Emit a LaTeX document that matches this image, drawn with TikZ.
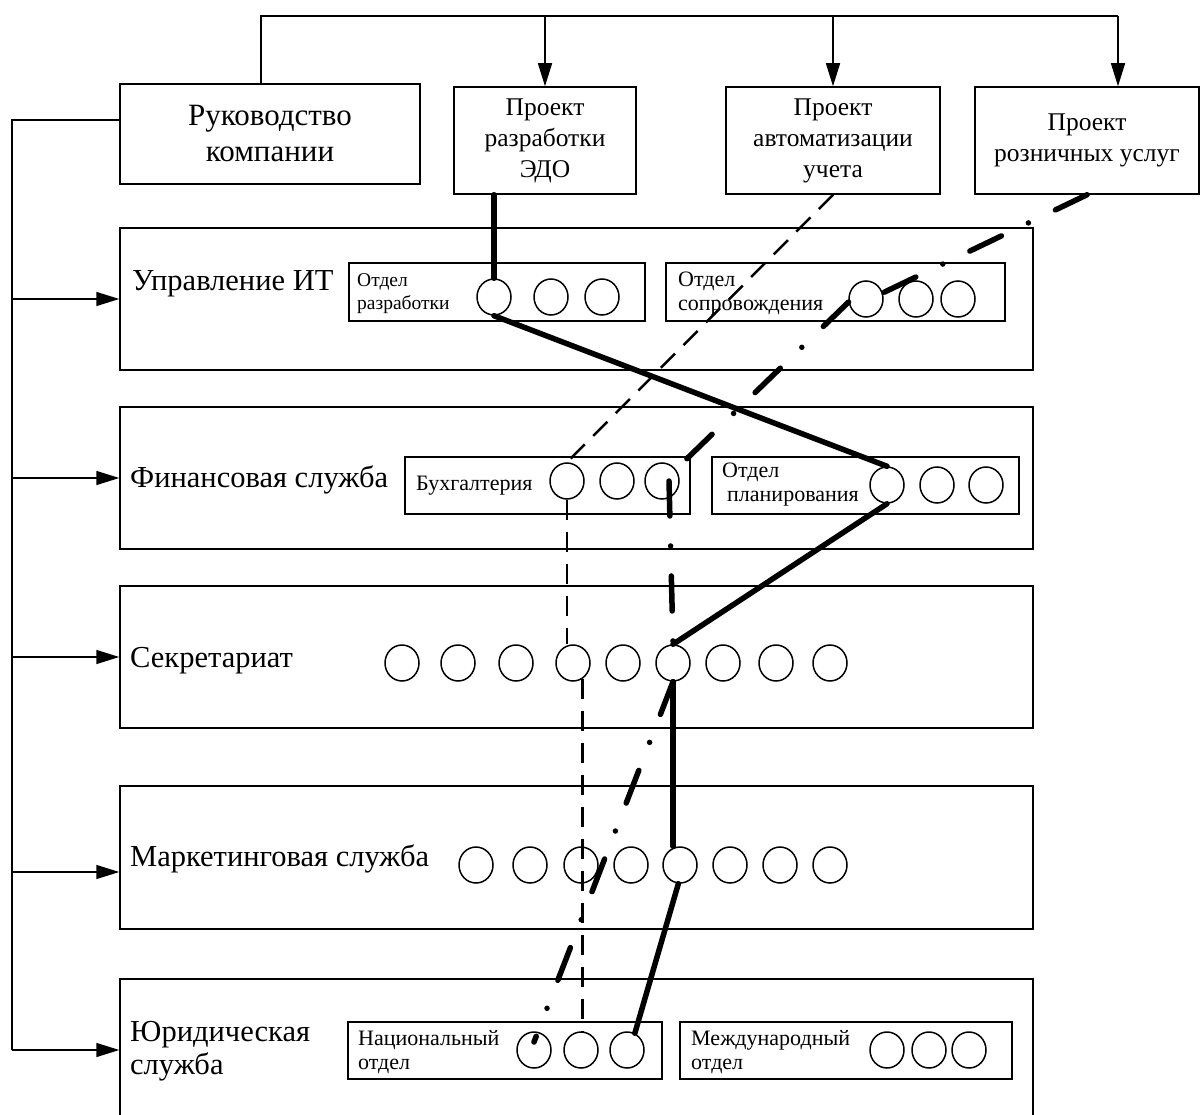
\documentclass[tikz,border=0pt]{standalone}
\usepackage{fontspec}
\setmainfont{Liberation Serif}
\usetikzlibrary{shapes.geometric,arrows.meta,calc}
\begin{document}
\begin{tikzpicture}[x=1pt,y=-1pt,
  ln/.style={line width=1.5pt},
  box/.style={draw,line width=1.5pt,inner sep=0pt,rectangle},
  circ/.style={draw,ellipse,line width=1.5pt,minimum width=34pt,minimum height=36pt,inner sep=0pt},
  arr/.style={line width=1.5pt,-{Triangle[length=23pt,width=14pt]}},
  bigtxt/.style={font=\fontsize{30.5}{36}\selectfont},
  projtxt/.style={font=\fontsize{25.5}{31}\selectfont,align=center},
  smalltxt/.style={font=\fontsize{22}{24}\selectfont,align=left,inner sep=0pt},
  edoline/.style={line width=5.5pt,line cap=round},
  autoline/.style={line width=2.5pt,dash pattern=on 20pt off 12pt},
  retline/.style={line width=5.5pt,line cap=round,dash pattern=on 35pt off 30pt on 0pt off 30pt},
]
\clip (0,0) rectangle (1201,1115);

% top boxes
\node[box,minimum width=300pt,minimum height=100pt,font=\fontsize{31}{36}\selectfont,align=center] (ruk) at (270,134) {Руководство\\компании};
\node[box,minimum width=182pt,minimum height=107pt,projtxt] (edo) at (545,140.5) {Проект\\разработки\\ЭДО};
\node[box,minimum width=214pt,minimum height=107pt,projtxt] (auto) at (833,140.5) {Проект\\автоматизации\\учета};
\node[box,minimum width=224pt,minimum height=107pt,projtxt] (ret) at (1087,140.5) {Проект\\розничных услуг};

% departments
\node[box,minimum width=913pt,minimum height=142pt] (upr) at (576.5,299) {};
\node[box,minimum width=913pt,minimum height=142pt] (fin) at (576.5,478) {};
\node[box,minimum width=913pt,minimum height=142pt] (sec) at (576.5,657) {};
\node[box,minimum width=913pt,minimum height=143pt] (mar) at (576.5,857.5) {};
\node[box,minimum width=913pt,minimum height=142pt] (jur) at (576.5,1050) {};

\node[bigtxt,anchor=base west,inner sep=0pt] (uprl) at (132,290) {Управление ИТ};
\node[bigtxt,anchor=base west,inner sep=0pt] (finl) at (130,487) {Финансовая служба};
\node[bigtxt,anchor=base west,inner sep=0pt] (secl) at (130,667) {Секретариат};
\node[bigtxt,anchor=base west,inner sep=0pt] (marl) at (130,866) {Маркетинговая служба};
\node[anchor=west,inner sep=0pt,align=left,font=\fontsize{30.5}{33}\selectfont] (jurl) at (130,1051) {Юридическая\\служба};

% sub-departments
\node[box,minimum width=296pt,minimum height=58pt] (rbox) at (497,292) {};
\node[box,minimum width=339pt,minimum height=58pt] (obox) at (835.5,292) {};
\node[box,minimum width=285pt,minimum height=57pt] (bbox) at (547.5,485.5) {};
\node[box,minimum width=307pt,minimum height=57pt] (pbox) at (865.5,485.5) {};
\node[box,minimum width=314pt,minimum height=57pt] (nbox) at (505,1050.5) {};
\node[box,minimum width=332pt,minimum height=57pt] (mbox) at (846,1050.5) {};

\node[smalltxt,anchor=west,font=\fontsize{19.5}{23}\selectfont] (rboxl) at (357,294) {Отдел\\разработки};
\node[smalltxt,anchor=west] (oboxl) at (678,294) {Отдел\\сопровождения};
\node[smalltxt,anchor=base west] (bboxl) at (416,490) {Бухгалтерия};
\node[smalltxt,anchor=west] (pboxl) at (722,485) {Отдел\\\hspace*{5pt}планирования};
\node[smalltxt,anchor=west] (nboxl) at (358,1052) {Национальный\\отдел};
\node[smalltxt,anchor=west] (mboxl) at (691,1052) {Международный\\отдел};

% circles
\foreach \x [count=\i] in {494,551,602} \node[circ] (rc\i) at (\x,297) {};
\foreach \x [count=\i] in {866,916,958} \node[circ] (oc\i) at (\x,299) {};
\foreach \x [count=\i] in {567,617,662} \node[circ] (bc\i) at (\x,481) {};
\foreach \x [count=\i] in {887,937,986} \node[circ] (pc\i) at (\x,485) {};
\foreach \x [count=\i] in {402,458,516,573,623,673,723,776,830} \node[circ] (sc\i) at (\x,663) {};
\foreach \x [count=\i] in {476,530,581,631,680,730,780,830} \node[circ] (mc\i) at (\x,865) {};
\foreach \x [count=\i] in {534,581,627} \node[circ] (nc\i) at (\x,1050) {};
\foreach \x [count=\i] in {887,929,969} \node[circ] (ic\i) at (\x,1050) {};

% top bus
\coordinate (rukTop) at ([xshift=-9pt]ruk.north);
\coordinate (busR) at (1118,16);
\draw[ln] (rukTop) -- (rukTop |- busR) -- (busR);
\draw[arr] (edo.north |- busR) -- (edo.north);
\draw[arr] (auto.north |- busR) -- (auto.north);
\draw[arr] (busR) -- (busR |- ret.north);

% left bus
\coordinate (rukL) at ([yshift=14pt]ruk.west);
\coordinate (lbus) at (12,120);
\draw[ln] (rukL) -- (lbus) -- (lbus |- jur.west);
\draw[arr] (lbus |- upr.west) -- (upr.west);
\draw[arr] (lbus |- fin.west) -- (fin.west);
\draw[arr] (lbus |- sec.west) -- (sec.west);
\coordinate (marIn) at ([yshift=-14.5pt]mar.west);
\draw[arr] (lbus |- marIn) -- (marIn);
\draw[arr] (lbus |- jur.west) -- (jur.west);

% project EDO
\draw[edoline] (edo.south -| rc1.north) -- (rc1.north);
\draw[edoline] (rc1.south) -- (pc1.north);
\draw[edoline] (pc1.south) -- (sc6.north);
\draw[edoline] (sc6.south) -- (sc6.south |- mc5.north);
\draw[edoline] (mc5.265) -- (nc3.65);

% project automation
\draw[autoline] (auto.south) -- (bc1.north);
\draw[autoline] (bc1.south) -- (bc1.south |- sc4.north);
\draw[autoline] (sc4.-60) -- (sc4.-60 |- nc2.north);

% project retail
\draw[retline] (ret.south) -- (oc1.20);
\draw[retline] (oc1.190) -- (bc3.40);
\draw[retline] ([xshift=7pt]bc3.center) -- (sc6.north);
\draw[retline] (sc6.south) -- ([yshift=8pt]nc1.center);
\end{tikzpicture}
\end{document}
